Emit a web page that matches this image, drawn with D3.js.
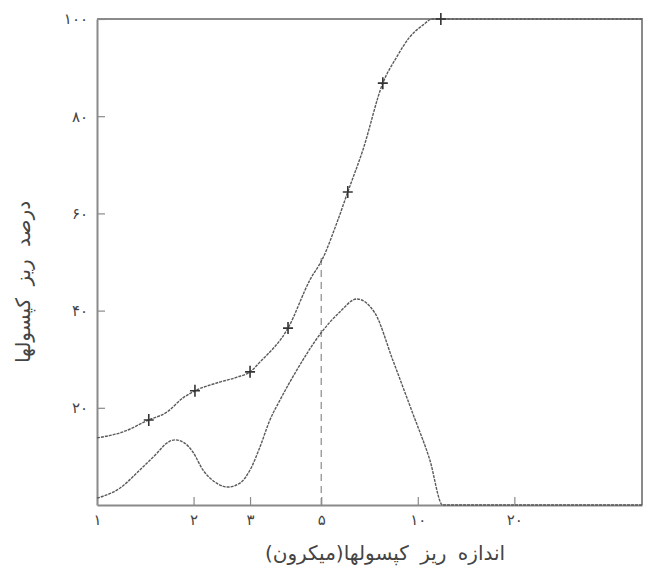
<!DOCTYPE html>
<html><head><meta charset="utf-8">
<script src="https://cdn.jsdelivr.net/npm/d3@7"></script>
<style>
html,body{margin:0;padding:0;background:#fff;}
svg{display:block;}
</style></head>
<body>
<svg id="chart" width="645" height="580"></svg>
<script>
// ---- data ----
const xTicks = [1, 2, 3, 5, 10, 20];
const xTickLabels = ["۱", "۲", "۳", "۵", "۱۰", "۲۰"];
const yTicks = [20, 40, 60, 80, 100];
const yTickLabels = ["۲۰", "۴۰", "۶۰", "۸۰", "۱۰۰"];
const xTitle = "اندازه ریز کپسولها(میکرون)";
const yTitle = "درصد ریز کپسولها";

// cumulative percentage curve (upper)
const cumX = [1, 1.2, 1.45, 1.65, 1.85, 2.02, 2.36, 2.73, 3.0, 3.22, 3.94, 4.61, 5.06, 5.59, 6.05, 6.74, 7.78, 8.6, 9.44, 10.4, 11.1, 50];
const cumY = [13.8, 15.0, 17.5, 19.1, 22.0, 23.5, 25.1, 26.3, 27.4, 29.4, 36.4, 46.3, 50.8, 58.0, 64.4, 73.0, 86.8, 92.2, 96.3, 98.8, 100, 100];
// "+" markers on the cumulative curve
const markX = [1.45, 2.02, 3.0, 3.94, 6.05, 7.78, 11.8];
const markY = [17.5, 23.5, 27.4, 36.4, 64.4, 86.8, 100];

// frequency curve (lower)
const freqX = [1, 1.18, 1.36, 1.54, 1.64, 1.75, 1.87, 1.99, 2.14, 2.36, 2.56, 2.79, 3.0, 3.22, 3.46, 3.72, 4.2, 5.02, 5.71, 6.45, 7.35, 8.36, 9.64, 10.9, 11.96, 50];
const freqY = [1.4, 3.5, 7.2, 10.7, 12.6, 13.4, 12.8, 10.9, 7.2, 4.5, 3.7, 4.5, 7.2, 11.9, 17.5, 21.6, 27.8, 35.6, 39.7, 42.4, 39.5, 29.8, 18.9, 9.3, 0, 0];

// dashed median guide
const medianX = [5];
const medianY = [50.8];

// ---- layout ----
const W = 645, H = 580;
const m = {left: 97, top: 19, right: 3, bottom: 75};
const svg = d3.select("#chart");
const x = d3.scaleLog().domain([1, 50]).range([m.left, W - m.right]);
const y = d3.scaleLinear().domain([0, 100]).range([H - m.bottom, m.top]);

const lineCol = "#5a5a5a", frameCol = "#8a8a8a", textCol = "#444";
const fontFam = "'DejaVu Sans', sans-serif";

// frame (top & right)
svg.append("path")
  .attr("d", `M${x(1)},${y(100)}H${x(50)}V${y(0)}`)
  .attr("fill", "none").attr("stroke", frameCol).attr("stroke-width", 2);

// x axis
const gx = svg.append("g").attr("transform", `translate(0,${y(0)})`)
  .call(d3.axisBottom(x).tickValues(xTicks).tickFormat((d, i) => xTickLabels[i])
    .tickSizeInner(-8).tickSizeOuter(0).tickPadding(9));
gx.select(".domain").attr("stroke", frameCol).attr("stroke-width", 2);
gx.selectAll(".tick line").attr("stroke", frameCol).attr("stroke-width", 1.2);
gx.selectAll(".tick text").attr("fill", textCol).attr("font-size", 15).attr("font-family", fontFam);

// y axis
const gy = svg.append("g").attr("transform", `translate(${x(1)},0)`)
  .call(d3.axisLeft(y).tickValues(yTicks).tickFormat((d, i) => yTickLabels[i])
    .tickSizeInner(-8).tickSizeOuter(0).tickPadding(9));
gy.select(".domain").attr("stroke", frameCol).attr("stroke-width", 2);
gy.selectAll(".tick line").attr("stroke", frameCol).attr("stroke-width", 1.2);
gy.selectAll(".tick text").attr("fill", textCol).attr("font-size", 15).attr("font-family", fontFam)
  .attr("letter-spacing", 4);

// dashed median line
svg.selectAll("line.median").data(medianX).join("line").attr("class", "median")
  .attr("x1", d => x(d)).attr("x2", d => x(d))
  .attr("y1", y(0)).attr("y2", (d, i) => y(medianY[i]))
  .attr("stroke", "#8a8a8a").attr("stroke-width", 1.2).attr("stroke-dasharray", "7,5");

const line = d3.line().x(d => x(d[0])).y(d => y(d[1])).curve(d3.curveMonotoneX);

svg.append("path").datum(cumX.map((v, i) => [v, cumY[i]]))
  .attr("d", line).attr("fill", "none").attr("stroke", lineCol).attr("stroke-width", 1.4)
  .attr("stroke-dasharray", "3,1");
svg.append("path").datum(freqX.map((v, i) => [v, freqY[i]]))
  .attr("d", line).attr("fill", "none").attr("stroke", lineCol).attr("stroke-width", 1.4)
  .attr("stroke-dasharray", "3,1");

// + markers
svg.selectAll("path.mark").data(markX.map((v, i) => [v, markY[i]])).join("path")
  .attr("class", "mark")
  .attr("transform", d => `translate(${x(d[0])},${y(d[1])})`)
  .attr("d", "M-5,0H5M0,-6V6")
  .attr("stroke", "#333").attr("stroke-width", 1.6).attr("fill", "none");

// axis titles
svg.append("text").text(xTitle)
  .attr("x", 385).attr("y", 560)
  .attr("direction", "rtl").attr("text-anchor", "middle")
  .attr("word-spacing", 5)
  .attr("font-family", fontFam).attr("font-size", 20).attr("fill", textCol);

svg.append("text").text(yTitle)
  .attr("transform", "translate(30,282) rotate(-90)")
  .attr("direction", "rtl").attr("text-anchor", "middle")
  .attr("word-spacing", 6)
  .attr("font-family", fontFam).attr("font-size", 20).attr("fill", textCol);
</script>
</body></html>
